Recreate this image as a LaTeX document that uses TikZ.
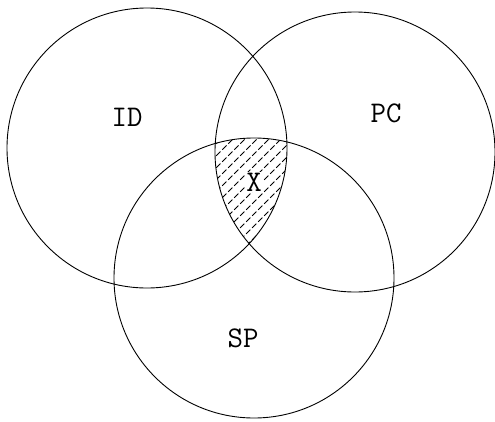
\documentclass[tikz,border=0pt]{standalone}
\usepackage{fontspec}
\begin{document}
\begin{tikzpicture}[x=1pt,y=-1pt,
  ring/.style={draw=black,line width=0.9pt},
  lbl/.style={font=\ttfamily\fontsize{30}{30}\selectfont,inner sep=0pt},
  hatch/.style={line width=0.8pt,dash pattern=on 6pt off 2.5pt}]
\useasboundingbox (0,0) rectangle (495,421);
\coordinate (cID) at (147,148);
\coordinate (cPC) at (355,152);
\coordinate (cSP) at (254,278);
\begin{scope}
  \clip (cID) circle (140);
  \clip (cPC) circle (140);
  \clip (cSP) circle (140);
  \foreach \k in {0,...,30} {
    \draw[hatch] (\k*12,300) -- (\k*12+200,100);
  }
\end{scope}
\draw[ring] (cID) circle (140);
\draw[ring] (cPC) circle (140);
\draw[ring] (cSP) circle (140);
\node[lbl] (id) at (127,117) {ID};
\node[lbl] (pc) at (386,113) {PC};
\node[lbl] (sp) at (243,338) {SP};
\node[lbl,fill=white,inner sep=1pt] (x) at (254,182) {X};
\end{tikzpicture}
\end{document}
